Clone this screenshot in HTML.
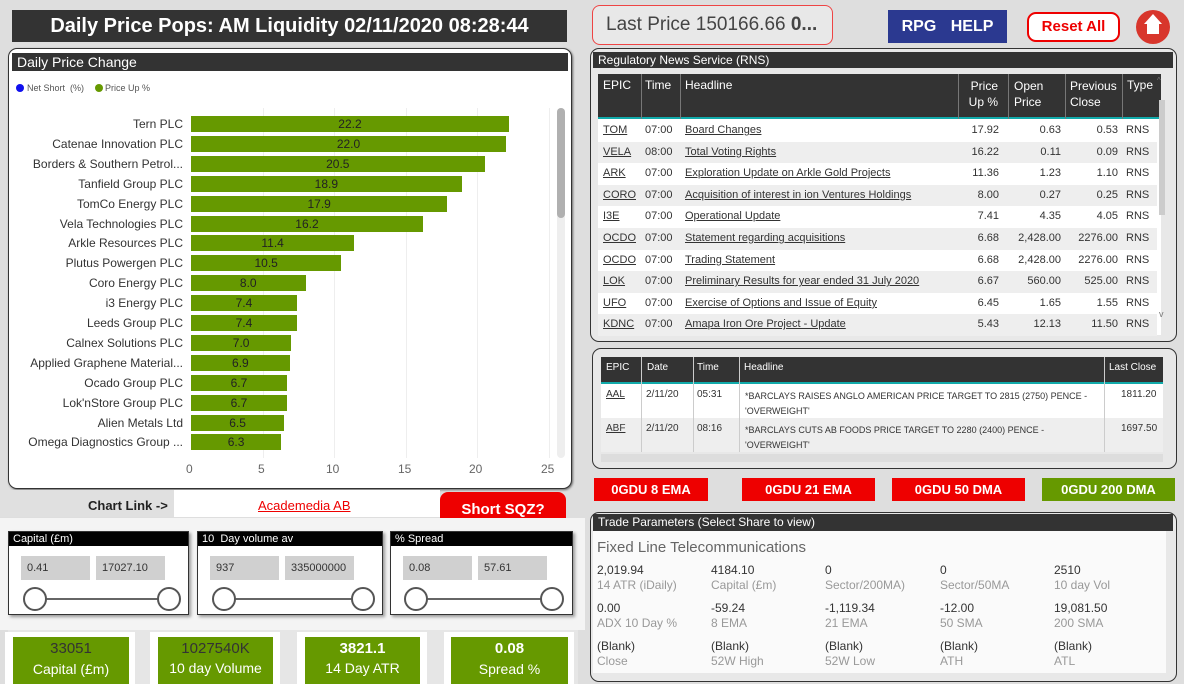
<!DOCTYPE html>
<html><head><meta charset="utf-8"><style>
*{margin:0;padding:0;box-sizing:border-box}
body{width:1184px;height:684px;overflow:hidden;background:#dedede;font-family:"Liberation Sans",sans-serif;position:relative;color:#333}
.a{position:absolute}
.hd{background:#333;color:#fff;font-size:13px;line-height:17px;padding-left:5px;white-space:nowrap}
.panel{border:1px solid #333;border-radius:9px;background:#e8e8e8}
.lbl{font-size:12px;color:#333;text-align:right;width:175px;left:8px;white-space:nowrap}
.bar{background:#669900;height:16px;left:191px}
.bv{font-size:12px;color:#222;text-align:center;line-height:16px}
.t{font-size:11px;color:#333;white-space:nowrap}
.u{text-decoration:underline}
.r{text-align:right}
.btn{background:#ee0000;color:#fff;font-weight:bold;font-size:13px;text-align:center;line-height:23px}
.v{font-size:12px;color:#333}
.l{font-size:12px;color:#999}
.card{background:#669900;text-align:center;color:#fff}
.sl{border:1px solid #333;background:#fff;box-shadow:2px 2px 3px #999}
.sl .h{background:#000;color:#fff;font-size:11px;line-height:14px;padding-left:4px}
.inp{background:#d0d0d0;font-size:11px;color:#333;line-height:24px;padding-left:6px;height:24px}
.c{width:24px;height:24px;border:2px solid #555;border-radius:50%;background:#fff}
</style></head><body>
<!-- title -->
<div class="a" style="left:12px;top:10px;width:555px;height:32px;background:#333;color:#fff;font-weight:bold;font-size:20px;line-height:32px;text-align:center">Daily Price Pops: AM Liquidity 02/11/2020 08:28:44</div>
<!-- chart panel -->
<div class="a" style="left:8px;top:48px;width:564px;height:441px;background:#fff;border:1px solid #333;border-radius:9px;box-shadow:1px 1px 2px #666"></div>
<div class="a hd" style="left:12px;top:53px;width:556px;height:18px;font-size:14px;line-height:18px">Daily Price Change</div>
<div class="a" style="left:16px;top:84px;width:8px;height:8px;border-radius:50%;background:#1010ee"></div>
<div class="a t" style="left:27px;top:83px;font-size:9px;color:#555">Net Short &nbsp;(%)</div>
<div class="a" style="left:95px;top:84px;width:8px;height:8px;border-radius:50%;background:#669900"></div>
<div class="a t" style="left:105px;top:83px;font-size:9px;color:#555">Price Up %</div>
<div class="a" style="left:263px;top:108px;width:1px;height:350px;background:#eee"></div>
<div class="a" style="left:334px;top:108px;width:1px;height:350px;background:#eee"></div>
<div class="a" style="left:406px;top:108px;width:1px;height:350px;background:#eee"></div>
<div class="a" style="left:477px;top:108px;width:1px;height:350px;background:#eee"></div>
<div class="a" style="left:549px;top:108px;width:1px;height:350px;background:#eee"></div>
<div class="a" style="left:557px;top:108px;width:8px;height:350px;background:#eee;border-radius:4px"></div>
<div class="a" style="left:557px;top:108px;width:8px;height:110px;background:#b0b0b0;border-radius:4px"></div>
<div id="bars"></div>
<div class="a t" style="left:186px;top:462px;font-size:12px;color:#666">0</div>
<div class="a t" style="left:258px;top:462px;font-size:12px;color:#666">5</div>
<div class="a t" style="left:326px;top:462px;font-size:12px;color:#666">10</div>
<div class="a t" style="left:398px;top:462px;font-size:12px;color:#666">15</div>
<div class="a t" style="left:469px;top:462px;font-size:12px;color:#666">20</div>
<div class="a t" style="left:541px;top:462px;font-size:12px;color:#666">25</div>
<!-- chart link -->
<div class="a" style="left:0;top:490px;width:174px;height:27px;background:#e0e0e0"></div>
<div class="a t" style="left:88px;top:498px;font-size:13px;font-weight:bold;color:#222">Chart Link -&gt;</div>
<div class="a" style="left:174px;top:490px;width:266px;height:27px;background:#fff"></div>
<div class="a t u" style="left:258px;top:498px;font-size:13px;color:#e00">Academedia AB</div>
<div class="a" style="left:440px;top:492px;width:126px;height:35px;background:#ee0000;border-radius:8px;color:#fff;font-weight:bold;font-size:15px;text-align:center;line-height:35px">Short SQZ?</div>
<div class="a" style="left:0;top:518px;width:585px;height:112px;background:#f4f4f4"></div>
<!-- sliders -->
<div class="a sl" style="left:8px;top:531px;width:181px;height:84px"><div class="h">Capital (£m)</div></div>
<div class="a inp" style="left:21px;top:556px;width:69px">0.41</div>
<div class="a inp" style="left:96px;top:556px;width:69px">17027.10</div>
<div class="a" style="left:35px;top:598px;width:135px;height:2px;background:#666"></div>
<div class="a c" style="left:23px;top:587px"></div><div class="a c" style="left:157px;top:587px"></div>
<div class="a sl" style="left:197px;top:531px;width:186px;height:84px"><div class="h">10 &nbsp;Day volume av</div></div>
<div class="a inp" style="left:210px;top:556px;width:69px">937</div>
<div class="a inp" style="left:285px;top:556px;width:69px">335000000</div>
<div class="a" style="left:224px;top:598px;width:140px;height:2px;background:#666"></div>
<div class="a c" style="left:212px;top:587px"></div><div class="a c" style="left:351px;top:587px"></div>
<div class="a sl" style="left:390px;top:531px;width:183px;height:84px"><div class="h">% Spread</div></div>
<div class="a inp" style="left:403px;top:556px;width:69px">0.08</div>
<div class="a inp" style="left:478px;top:556px;width:69px">57.61</div>
<div class="a" style="left:416px;top:598px;width:136px;height:2px;background:#666"></div>
<div class="a c" style="left:404px;top:587px"></div><div class="a c" style="left:540px;top:587px"></div>
<!-- cards -->
<div class="a" style="left:8px;top:630px;width:570px;height:54px;background:#e6e6e6"></div>
<div class="a" style="left:5px;top:632px;width:130px;height:52px;background:#fff"></div>
<div class="a" style="left:150px;top:632px;width:130px;height:52px;background:#fff"></div>
<div class="a" style="left:297px;top:632px;width:130px;height:52px;background:#fff"></div>
<div class="a" style="left:444px;top:632px;width:130px;height:52px;background:#fff"></div>
<div class="a card" style="left:13px;top:637px;width:116px;height:47px"><div style="font-size:15px;color:#333;line-height:24px">33051</div><div style="font-size:14px">Capital (£m)</div></div>
<div class="a card" style="left:158px;top:637px;width:115px;height:47px"><div style="font-size:15px;color:#333;line-height:24px">1027540K</div><div style="font-size:14px;line-height:14px">10 day Volume</div></div>
<div class="a card" style="left:305px;top:637px;width:115px;height:47px"><div style="font-size:15px;font-weight:bold;line-height:24px">3821.1</div><div style="font-size:14px;line-height:14px">14 Day ATR</div></div>
<div class="a card" style="left:451px;top:637px;width:117px;height:47px"><div style="font-size:15px;font-weight:bold;line-height:24px">0.08</div><div style="font-size:14px">Spread %</div></div>
<!-- top right -->
<div class="a" style="left:592px;top:5px;width:241px;height:40px;background:#e8e8e8;border:1px solid #e44;border-radius:8px;font-size:19px;line-height:38px;padding-left:13px;color:#444;white-space:nowrap">Last Price 150166.66 <b>0...</b></div>
<div class="a" style="left:888px;top:10px;width:119px;height:33px;background:#2b3990;color:#fff;font-weight:bold;font-size:16px;line-height:33px;text-align:center;word-spacing:10px">RPG HELP</div>
<div class="a" style="left:1027px;top:12px;width:93px;height:30px;background:#fff;border:2px solid #e00;border-radius:9px;color:#e00;font-weight:bold;font-size:15px;line-height:26px;text-align:center">Reset All</div>
<div class="a" style="left:1136px;top:10px;width:34px;height:34px;border-radius:50%;background:#d8362c"></div>
<div class="a" style="left:1144px;top:14px;width:0;height:0;border-left:9px solid transparent;border-right:9px solid transparent;border-bottom:10px solid #fff"></div>
<div class="a" style="left:1147px;top:24px;width:12px;height:10px;background:#fff"></div>
<!-- RNS -->
<div class="a panel" style="left:590px;top:48px;width:587px;height:294px"></div>
<div class="a hd" style="left:593px;top:52px;width:580px;height:16px;font-size:12px;line-height:16px">Regulatory News Service (RNS)</div>
<div class="a" style="left:598px;top:74px;width:563px;height:45px;background:#333;border-bottom:2px solid #1aa"></div>
<div class="a" style="left:598px;top:119px;width:563px;height:216px;background:#fff"></div>
<div id="rns"></div>
<div class="a t" style="left:603px;top:78px;color:#fff;font-size:12px">EPIC</div>
<div class="a t" style="left:645px;top:78px;color:#fff;font-size:12px">Time</div>
<div class="a t" style="left:685px;top:78px;color:#fff;font-size:12px">Headline</div>
<div class="a t r" style="left:960px;width:38px;top:78px;color:#fff;font-size:12px;line-height:16px;white-space:normal">Price Up %</div>
<div class="a t" style="left:1014px;top:78px;color:#fff;font-size:12px;line-height:16px">Open<br>Price</div>
<div class="a t" style="left:1070px;top:78px;color:#fff;font-size:12px;line-height:16px">Previous<br>Close</div>
<div class="a t" style="left:1127px;top:78px;color:#fff;font-size:12px">Type</div>
<div class="a" style="left:641px;top:74px;width:1px;height:45px;background:#777"></div>
<div class="a" style="left:680px;top:74px;width:1px;height:45px;background:#777"></div>
<div class="a" style="left:958px;top:74px;width:1px;height:45px;background:#777"></div>
<div class="a" style="left:1008px;top:74px;width:1px;height:45px;background:#777"></div>
<div class="a" style="left:1065px;top:74px;width:1px;height:45px;background:#777"></div>
<div class="a" style="left:1122px;top:74px;width:1px;height:45px;background:#777"></div>
<div class="a" style="left:1157px;top:76px;font-size:8px;color:#777">^</div>
<div class="a" style="left:1159px;top:100px;width:6px;height:115px;background:#ccc"></div>
<div class="a" style="left:1159px;top:309px;font-size:9px;color:#777">v</div>
<!-- second table -->
<div class="a panel" style="left:592px;top:348px;width:585px;height:121px"></div>
<div class="a" style="left:601px;top:357px;width:562px;height:27px;background:#333;border-bottom:2px solid #1aa"></div>
<div class="a" style="left:601px;top:384px;width:562px;height:68px;background:#eee"></div>
<div class="a" style="left:601px;top:384px;width:562px;height:34px;background:#fff"></div>
<div class="a" style="left:601px;top:454px;width:562px;height:8px;background:#ddd"></div>
<div class="a t" style="left:606px;top:362px;color:#fff;font-size:10px">EPIC</div>
<div class="a t" style="left:647px;top:362px;color:#fff;font-size:10px">Date</div>
<div class="a t" style="left:697px;top:362px;color:#fff;font-size:10px">Time</div>
<div class="a t" style="left:744px;top:362px;color:#fff;font-size:10px">Headline</div>
<div class="a t" style="left:1109px;top:362px;color:#fff;font-size:10px">Last Close</div>
<div class="a" style="left:641px;top:357px;width:1px;height:95px;background:#ccc"></div>
<div class="a" style="left:693px;top:357px;width:1px;height:95px;background:#ccc"></div>
<div class="a" style="left:739px;top:357px;width:1px;height:95px;background:#ccc"></div>
<div class="a" style="left:1104px;top:357px;width:1px;height:95px;background:#ccc"></div>
<div class="a t u" style="left:606px;top:389px;font-size:10px">AAL</div>
<div class="a t" style="left:646px;top:389px;font-size:10px">2/11/20</div>
<div class="a t" style="left:697px;top:389px;font-size:10px">05:31</div>
<div class="a t" style="left:745px;top:389px;font-size:9px;line-height:15px">*BARCLAYS RAISES ANGLO AMERICAN PRICE TARGET TO 2815 (2750) PENCE -<br>'OVERWEIGHT'</div>
<div class="a t" style="left:1121px;top:389px;font-size:10px">1811.20</div>
<div class="a t u" style="left:606px;top:423px;font-size:10px">ABF</div>
<div class="a t" style="left:646px;top:423px;font-size:10px">2/11/20</div>
<div class="a t" style="left:697px;top:423px;font-size:10px">08:16</div>
<div class="a t" style="left:745px;top:423px;font-size:9px;line-height:15px">*BARCLAYS CUTS AB FOODS PRICE TARGET TO 2280 (2400) PENCE -<br>'OVERWEIGHT'</div>
<div class="a t" style="left:1121px;top:423px;font-size:10px">1697.50</div>
<!-- buttons -->
<div class="a btn" style="left:594px;top:478px;width:114px">0GDU 8 EMA</div>
<div class="a btn" style="left:742px;top:478px;width:133px">0GDU 21 EMA</div>
<div class="a btn" style="left:892px;top:478px;width:133px">0GDU 50 DMA</div>
<div class="a btn" style="left:1042px;top:478px;width:133px;background:#669900">0GDU 200 DMA</div>
<!-- trade params -->
<div class="a panel" style="left:590px;top:512px;width:587px;height:170px"></div>
<div class="a hd" style="left:593px;top:514px;width:580px;height:17px;font-size:12px;line-height:17px">Trade Parameters (Select Share to view)</div>
<div class="a" style="left:593px;top:531px;width:573px;height:142px;background:#fafafa"></div>
<div class="a t" style="left:597px;top:539px;font-size:15px;color:#666">Fixed Line Telecommunications</div>
<div id="tp"></div>
<script>
var d=[["Tern PLC",22.2],["Catenae Innovation PLC",22.0],["Borders &amp; Southern Petrol...",20.5],["Tanfield Group PLC",18.9],["TomCo Energy PLC",17.9],["Vela Technologies PLC",16.2],["Arkle Resources PLC",11.4],["Plutus Powergen PLC",10.5],["Coro Energy PLC",8.0],["i3 Energy PLC",7.4],["Leeds Group PLC",7.4],["Calnex Solutions PLC",7.0],["Applied Graphene Material...",6.9],["Ocado Group PLC",6.7],["Lok'nStore Group PLC",6.7],["Alien Metals Ltd",6.5],["Omega Diagnostics Group ...",6.3]];
var h="";d.forEach(function(r,i){var y=116+i*19.9,w=r[1]*14.32;h+='<div class="a lbl" style="top:'+(y+1)+'px">'+r[0]+'</div><div class="a bar" style="top:'+y+'px;width:'+w+'px"></div><div class="a bv" style="left:191px;width:'+w+'px;top:'+y+'px">'+r[1].toFixed(1)+'</div>';});
document.getElementById("bars").innerHTML=h;
var n=[["TOM","07:00","Board Changes","17.92","0.63","0.53"],["VELA","08:00","Total Voting Rights","16.22","0.11","0.09"],["ARK","07:00","Exploration Update on Arkle Gold Projects","11.36","1.23","1.10"],["CORO","07:00","Acquisition of interest in ion Ventures Holdings","8.00","0.27","0.25"],["I3E","07:00","Operational Update","7.41","4.35","4.05"],["OCDO","07:00","Statement regarding acquisitions","6.68","2,428.00","2276.00"],["OCDO","07:00","Trading Statement","6.68","2,428.00","2276.00"],["LOK","07:00","Preliminary Results for year ended 31 July 2020","6.67","560.00","525.00"],["UFO","07:00","Exercise of Options and Issue of Equity","6.45","1.65","1.55"],["KDNC","07:00","Amapa Iron Ore Project - Update","5.43","12.13","11.50"]];
h="";n.forEach(function(r,i){var y=120+i*21.6;if(i%2)h+='<div class="a" style="left:598px;top:'+y+'px;width:559px;height:21.6px;background:#eee"></div>';var ty=y+4;h+='<div class="a t u" style="left:603px;top:'+ty+'px">'+r[0]+'</div><div class="a t" style="left:645px;top:'+ty+'px">'+r[1]+'</div><div class="a t u" style="left:685px;top:'+ty+'px">'+r[2]+'</div><div class="a t r" style="left:958px;width:41px;top:'+ty+'px">'+r[3]+'</div><div class="a t r" style="left:1008px;width:53px;top:'+ty+'px">'+r[4]+'</div><div class="a t r" style="left:1065px;width:53px;top:'+ty+'px">'+r[5]+'</div><div class="a t" style="left:1126px;top:'+ty+'px">RNS</div>';});
document.getElementById("rns").innerHTML=h;
var tp=[[["2,019.94","14 ATR (iDaily)"],["4184.10","Capital (£m)"],["0","Sector/200MA)"],["0","Sector/50MA"],["2510","10 day Vol"]],[["0.00","ADX 10 Day %"],["-59.24","8 EMA"],["-1,119.34","21 EMA"],["-12.00","50 SMA"],["19,081.50","200 SMA"]],[["(Blank)","Close"],["(Blank)","52W High"],["(Blank)","52W Low"],["(Blank)","ATH"],["(Blank)","ATL"]]];
var xs=[597,711,825,940,1054];h="";
tp.forEach(function(row,j){var y=563+j*38;row.forEach(function(c,i){h+='<div class="a t v" style="left:'+xs[i]+'px;top:'+y+'px">'+c[0]+'</div><div class="a t l" style="left:'+xs[i]+'px;top:'+(y+15)+'px">'+c[1]+'</div>';});});
document.getElementById("tp").innerHTML=h;
</script>
</body></html>
